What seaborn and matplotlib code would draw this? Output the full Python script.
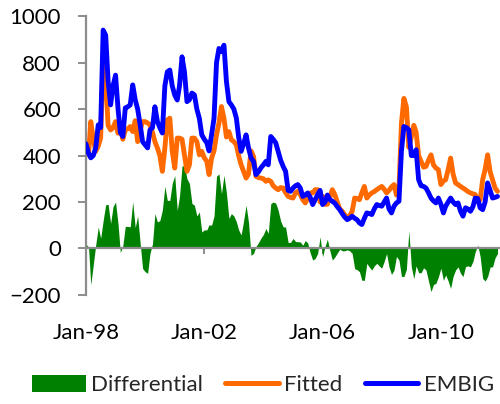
import numpy as np
import pandas as pd
import matplotlib
matplotlib.use("Agg")
import matplotlib.pyplot as plt
import matplotlib.dates as mdates
from matplotlib.patches import Patch
from matplotlib.lines import Line2D
import seaborn as sns

# Monthly spreads (bp), Jan-1998 .. Dec-2011
embig = [
    450, 410, 390, 400, 433, 532, 520, 940, 918, 720, 618, 700,   # 1998
    746, 600, 500, 482, 605, 610, 618, 704, 640, 600, 532, 460,   # 1999
    446, 433, 510, 520, 610, 546, 520, 497, 700, 760, 768, 700,   # 2000
    660, 639, 700, 825, 760, 632, 640, 669, 661, 600, 560, 489,   # 2001
    470, 455, 420, 489, 560, 800, 861, 847, 875, 720, 632, 618,   # 2002
    600, 561, 480, 418, 450, 489, 433, 390, 375, 318, 330, 347,   # 2003
    360, 375, 360, 482, 470, 455, 418, 380, 353, 332, 250, 246,   # 2004
    260, 270, 275, 260, 224, 230, 239, 220, 189, 210, 232, 250,   # 2005
    189, 200, 230, 210, 203, 195, 180, 167, 150, 135, 124, 130,   # 2006
    139, 130, 124, 110, 103, 130, 153, 150, 146, 170, 189, 185,   # 2007
    182, 200, 217, 170, 153, 182, 196, 203, 420, 525, 520, 511,   # 2008
    400, 400, 425, 296, 270, 267, 260, 240, 217, 205, 196, 217,   # 2009
    190, 153, 182, 200, 217, 200, 189, 196, 160, 139, 175, 170,   # 2010
    160, 180, 217, 215, 175, 167, 200, 282, 250, 217, 220, 224,   # 2011
]
fitted = [
    432, 403, 546, 470, 418, 440, 476, 820, 730, 530, 510, 520,   # 1998
    546, 496, 518, 470, 510, 515, 525, 503, 550, 460, 510, 546,   # 1999
    546, 540, 532, 500, 460, 432, 400, 332, 432, 553, 561, 420,   # 2000
    346, 475, 475, 470, 403, 332, 360, 475, 475, 460, 403, 418,   # 2001
    390, 375, 318, 389, 420, 489, 540, 611, 560, 480, 503, 468,   # 2002
    460, 446, 400, 360, 332, 303, 320, 420, 396, 310, 305, 303,   # 2003
    300, 289, 295, 289, 270, 260, 253, 262, 260, 240, 224, 220,   # 2004
    217, 240, 246, 232, 210, 196, 215, 239, 239, 253, 253, 200,   # 2005
    225, 190, 190, 220, 253, 232, 200, 170, 160, 145, 130, 140,   # 2006
    160, 217, 215, 210, 240, 267, 217, 230, 239, 245, 253, 260,   # 2007
    267, 255, 239, 250, 265, 275, 230, 253, 540, 646, 610, 435,   # 2008
    480, 530, 500, 400, 375, 350, 353, 380, 403, 360, 346, 339,   # 2009
    275, 290, 296, 340, 389, 320, 282, 275, 267, 260, 253, 245,   # 2010
    239, 235, 232, 200, 210, 296, 340, 403, 330, 296, 260, 246,   # 2011
]
series_names = ["Differential", "Fitted", "EMBIG"]
tick_dates = ["1998-01-01", "2002-01-01", "2006-01-01", "2010-01-01"]
y_ticks = [-200, 0, 200, 400, 600, 800, 1000]

dates = pd.date_range("1998-01-01", periods=len(embig), freq="MS")
df = pd.DataFrame({"date": dates, "EMBIG": embig, "Fitted": fitted})
df["Differential"] = df["EMBIG"] - df["Fitted"]

sns.set_style("white")
plt.rcParams["font.family"] = ["Lato", "DejaVu Sans"]

GREEN = "#008000"
ORANGE = "#FF6A00"
BLUE = "#0000FF"
GREY = "#8C8C8C"

fig = plt.figure(figsize=(5.0, 4.04), dpi=100)
ax = fig.add_axes([0.172, 0.270, 0.828, 0.690])

ax.fill_between(df["date"], 0, df["Differential"], color=GREEN, linewidth=0, zorder=1)
sns.lineplot(data=df, x="date", y="Fitted", color=ORANGE, linewidth=3.5, ax=ax, zorder=2)
sns.lineplot(data=df, x="date", y="EMBIG", color=BLUE, linewidth=3.5, ax=ax, zorder=3)

ax.set_xlim(pd.Timestamp("1998-01-01"), pd.Timestamp("2012-01-01"))
ax.set_ylim(-200, 1000)
ax.set_yticks(y_ticks)
ax.set_xticks(pd.to_datetime(tick_dates))
ax.xaxis.set_major_formatter(mdates.DateFormatter("%b-%y"))
ax.set_xlabel("")
ax.set_ylabel("")

for side in ["top", "right"]:
    ax.spines[side].set_visible(False)
ax.spines["left"].set_color(GREY)
ax.spines["left"].set_linewidth(1.6)
ax.spines["bottom"].set_position(("data", 0))
ax.spines["bottom"].set_color(GREY)
ax.spines["bottom"].set_linewidth(1.6)
ax.spines["bottom"].set_zorder(4)

ax.tick_params(axis="y", direction="out", length=6, width=1.4, color=GREY,
               pad=12, labelsize=16, labelcolor="black", left=True)
ax.tick_params(axis="x", direction="out", length=4, width=1.4, color=GREY,
               pad=50, labelsize=16, labelcolor="black", bottom=True)

handles = [
    Patch(facecolor=GREEN, edgecolor="none"),
    Line2D([0], [0], color=ORANGE, linewidth=3.6, solid_capstyle="round"),
    Line2D([0], [0], color=BLUE, linewidth=3.6, solid_capstyle="round"),
]
fig.legend(handles, series_names, loc="center", bbox_to_anchor=(0.526, 0.047),
           ncol=3, frameon=False, fontsize=16, handlelength=2.4,
           handleheight=0.8, handletextpad=0.25, columnspacing=1.0)

fig.savefig("out.png", dpi=100)
